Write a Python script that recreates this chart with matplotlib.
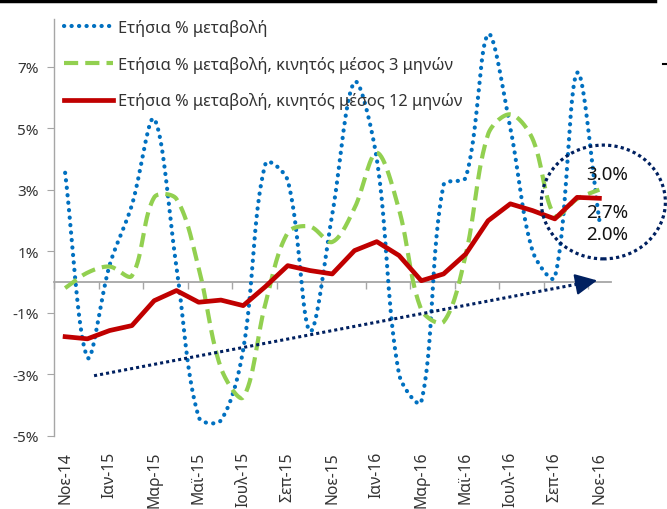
import numpy as np
import matplotlib
matplotlib.use("Agg")
import matplotlib.pyplot as plt
from matplotlib.patches import Ellipse
from matplotlib.lines import Line2D

plt.rcParams['font.family'] = ['Noto Sans', 'DejaVu Sans']

months = ["Νοε-14", "Δεκ-14", "Ιαν-15", "Φεβ-15", "Μαρ-15", "Απρ-15", "Μαϊ-15", "Ιουν-15",
          "Ιουλ-15", "Αυγ-15", "Σεπ-15", "Οκτ-15", "Νοε-15", "Δεκ-15", "Ιαν-16", "Φεβ-16",
          "Μαρ-16", "Απρ-16", "Μαϊ-16", "Ιουν-16", "Ιουλ-16", "Αυγ-16", "Σεπ-16", "Οκτ-16", "Νοε-16"]

yoy = [3.55, -2.45, 0.55, 2.5, 5.3, 0.5, -4.4, -4.5, -2.2, 3.85, 3.3, -1.6, 2.2, 6.5, 4.0,
       -3.0, -3.9, 3.15, 3.4, 8.05, 5.0, 1.0, 0.15, 6.8, 2.0]
ma3 = [-0.2, 0.3, 0.5, 0.2, 2.75, 2.7, 0.45, -2.8, -3.75, -0.7, 1.6, 1.8, 1.3, 2.4, 4.2,
       2.35, -0.9, -1.3, 0.9, 4.8, 5.45, 4.65, 2.15, 2.7, 3.0]
ma12 = [-1.78, -1.85, -1.58, -1.42, -0.61, -0.28, -0.66, -0.59, -0.77, -0.15, 0.53, 0.37, 0.26,
        1.02, 1.31, 0.86, 0.04, 0.26, 0.91, 1.99, 2.54, 2.32, 2.05, 2.75, 2.72]

series_labels = ["Ετήσια % μεταβολή",
                 "Ετήσια % μεταβολή, κινητός μέσος 3 μηνών",
                 "Ετήσια % μεταβολή, κινητός μέσος 12 μηνών"]

yticks = [-5, -3, -1, 1, 3, 5, 7]
ytick_labels = ["-5%", "-3%", "-1%", "1%", "3%", "5%", "7%"]

end_labels = ["3.0%", "2.7%", "2.0%"]

# approximate pixel scale of the plot (px per category, px per %), for Excel-like smoothing
SX, SY = 22.26, 30.75


def smooth(vals, n=30):
    """Excel-like smoothed line: Bezier segments with tangents split by segment lengths."""
    y = np.asarray(vals, dtype=float)
    x = np.arange(len(y), dtype=float)
    P = np.column_stack([x * SX, y * SY])
    N = len(P)
    cout = np.zeros_like(P)
    cin = np.zeros_like(P)
    for i in range(N):
        prev = P[i - 1] if i > 0 else P[i]
        nxt = P[i + 1] if i < N - 1 else P[i]
        T = nxt - prev
        d0 = np.linalg.norm(P[i] - prev)
        d1 = np.linalg.norm(nxt - P[i])
        s = d0 + d1 if d0 + d1 > 0 else 1.0
        cout[i] = P[i] + T * (d1 / s) / 3.0
        cin[i] = P[i] - T * (d0 / s) / 3.0
    t = np.linspace(0, 1, n, endpoint=False)[:, None]
    out = []
    for i in range(N - 1):
        p1, c1, c2, p2 = P[i], cout[i], cin[i + 1], P[i + 1]
        seg = ((1 - t) ** 3) * p1 + 3 * ((1 - t) ** 2) * t * c1 + 3 * (1 - t) * t ** 2 * c2 + t ** 3 * p2
        out.append(seg)
    out.append(P[-1][None, :])
    out = np.vstack(out)
    return out[:, 0] / SX, out[:, 1] / SY


fig = plt.figure(figsize=(6.67, 5.10), dpi=100)
ax = fig.add_axes([54 / 667, 1 - 436.7 / 510, (610.5 - 54) / 667, (436.7 - 20) / 510])

x = np.arange(len(months))
gray = "#A6A6A6"
txt = "#333333"

bx, by = smooth(yoy)
l1, = ax.plot(bx, by, color="#0070C0", lw=3.0, linestyle=(0, (0.05, 1.75)),
              dash_capstyle="round", label=series_labels[0], zorder=3)
gx, gy = smooth(ma3)
l2, = ax.plot(gx, gy, color="#92D050", lw=3.0, linestyle=(0, (3.4, 1.7)),
              label=series_labels[1], zorder=4)
l3, = ax.plot(x, ma12, color="#C00000", lw=3.4, solid_joinstyle="round",
              label=series_labels[2], zorder=5)

ax.set_xlim(-0.5, len(months) - 0.5)
ax.set_ylim(-5, 8.55)

for s in ["top", "right"]:
    ax.spines[s].set_visible(False)
ax.spines["left"].set_color(gray)
ax.spines["bottom"].set_color(gray)
ax.spines["bottom"].set_position(("data", 0))
ax.spines["bottom"].set_linewidth(1.3)
ax.spines["left"].set_linewidth(1.0)

ax.set_yticks(yticks)
ax.set_yticklabels(ytick_labels)
ax.tick_params(axis="y", direction="out", length=5, color=gray, labelsize=11,
               labelcolor=txt, pad=6)

ax.set_xticks(np.arange(-0.5, len(months) - 0.5, 2))
ax.set_xticklabels([])
ax.tick_params(axis="x", direction="out", length=5, color=gray, width=1.0)

sec = ax.secondary_xaxis("bottom")
sec.spines["bottom"].set_visible(False)
sec.set_xticks(x[::2])
sec.set_xticklabels(months[::2], rotation=90)
sec.tick_params(length=0, pad=11, labelsize=11.3, labelcolor=txt)

leg = ax.legend(handles=[l1, l2, l3], loc="upper left", frameon=False,
                bbox_to_anchor=(64 / 667, 1 - 20 / 510), bbox_transform=fig.transFigure,
                fontsize=11.8, handlelength=3.0, handletextpad=0.3, labelspacing=1.2,
                borderpad=0, borderaxespad=0)
for t in leg.get_texts():
    t.set_color(txt)

# trend arrow
navy = "#002060"
arrow_start = (1.3, -3.05)
arrow_end = (23.9, 0.05)
frac = 0.965
mid = (arrow_start[0] + frac * (arrow_end[0] - arrow_start[0]),
       arrow_start[1] + frac * (arrow_end[1] - arrow_start[1]))
ax.plot([arrow_start[0], mid[0]], [arrow_start[1], mid[1]], color=navy, lw=2.2,
        linestyle=(0, (1, 1)), zorder=6, clip_on=False)
ax.annotate("", xy=arrow_end, xytext=mid,
            arrowprops=dict(arrowstyle="-|>,head_length=0.45,head_width=0.22",
                            color=navy, lw=1.5, mutation_scale=30, shrinkA=0, shrinkB=0),
            zorder=6, annotation_clip=False)

# ellipse
ell = Ellipse((24.18, 2.6), width=5.57, height=3.7, fill=False, ec=navy, lw=2.3,
              linestyle=(0, (1, 1)), clip_on=False, zorder=7)
ax.add_patch(ell)

for lab, yv in zip(end_labels, [3.51, 2.28, 1.56]):
    ax.text(24.33, yv, lab, ha="center", va="center", fontsize=13.5, color="#111111",
            zorder=8, clip_on=False)

fig.add_artist(Line2D([0, 655 / 667], [1 - 1.5 / 510] * 2, transform=fig.transFigure,
                      color="black", lw=2.5))
fig.add_artist(Line2D([663 / 667, 667 / 667], [1 - 65 / 510] * 2, transform=fig.transFigure,
                      color="black", lw=1.5))

fig.savefig("out.png", dpi=100)
